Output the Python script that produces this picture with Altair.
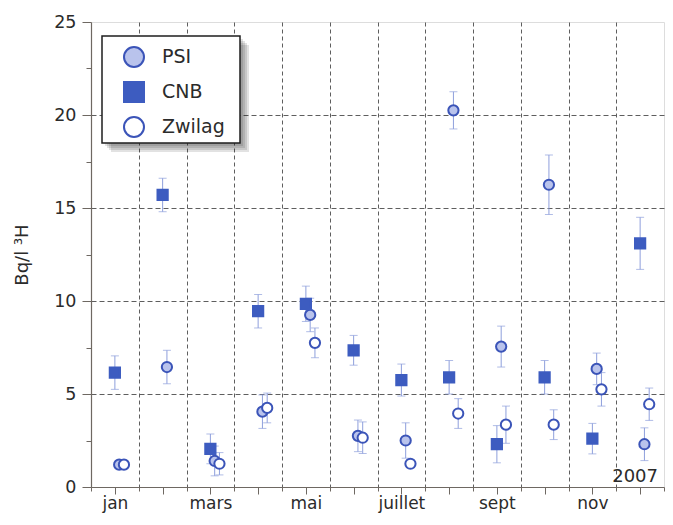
import json
import altair as alt
import pandas as pd

# ---------------- data ----------------
series_order = ["PSI", "CNB", "Zwilag"]
month_labels = ["jan", "", "mars", "", "mai", "", "juillet", "", "sept", "", "nov", ""]

psi_month = [1, 2, 3, 4, 5, 6, 7, 8, 9, 10, 11, 12]
psi_val = [1.2, 6.45, 1.4, 4.05, 9.25, 2.75, 2.5, 20.25, 7.55, 16.25, 6.35, 2.3]
psi_err = [0.2, 0.9, 0.8, 0.9, 0.9, 0.85, 0.95, 1.0, 1.1, 1.6, 0.85, 0.88]

cnb_month = [1, 2, 3, 4, 5, 6, 7, 8, 9, 10, 11, 12]
cnb_val = [6.15, 15.7, 2.05, 9.45, 9.85, 7.35, 5.75, 5.9, 2.3, 5.9, 2.6, 13.1]
cnb_err = [0.9, 0.9, 0.8, 0.9, 0.95, 0.8, 0.86, 0.9, 1.0, 0.9, 0.82, 1.4]

zw_month = [1, 3, 4, 5, 6, 7, 8, 9, 10, 11, 12]
zw_val = [1.2, 1.25, 4.25, 7.75, 2.65, 1.25, 3.95, 3.35, 3.35, 5.25, 4.45]
zw_err = [0.2, 0.6, 0.8, 0.8, 0.85, 0.2, 0.8, 1.0, 0.8, 0.9, 0.87]

year_label = "2007"

rows = []
for name, ms, vs, es in [("PSI", psi_month, psi_val, psi_err),
                         ("CNB", cnb_month, cnb_val, cnb_err),
                         ("Zwilag", zw_month, zw_val, zw_err)]:
    for m, v, e in zip(ms, vs, es):
        rows.append({"series": name, "month": m, "value": v, "err": e})
df = pd.DataFrame(rows)

# ---------------- styling ----------------
FONT = "DejaVu Sans"
TXT = "#2b2b2b"
AX = "#6e6862"
GRID = "#5e5e5e"
W, H = 573, 465

fill_range = ["#b9c3ec", "#3d5cc0", "#ffffff"]
stroke_range = ["#3b54b8", "#3d5cc0", "#3b54b8"]
shape_range = ["circle", "square", "circle"]
ERR = "#8e9fdc"

x_vals = [i / 2 for i in range(1, 26)]
y_vals = [i * 2.5 for i in range(0, 11)]
lab_expr = "datum.value % 1 === 0 ? (" + json.dumps(month_labels) + "[datum.value - 1] || '') : ''"

x_axis = alt.Axis(
    values=x_vals, labelExpr=lab_expr, title=None,
    tickSize={"condition": {"test": "datum.value % 1 === 0", "value": 7}, "value": 4},
    tickColor=AX, domainColor=AX, tickWidth=1, domainWidth=1.2,
    grid=True, gridDash=[4, 3], gridColor=GRID, gridWidth=1,
    gridOpacity={"condition": {"test": "datum.value % 1 !== 0 && datum.value > 1 && datum.value < 12", "value": 1}, "value": 0},
    labelFont=FONT, labelFontSize=17, labelColor=TXT, labelPadding=1,
    labelFlush=False, labelOverlap=False,
)
y_axis = alt.Axis(
    values=y_vals, labelExpr="datum.value % 5 === 0 ? datum.label : ''",
    title="Bq/l ³H", titleFont=FONT, titleFontSize=18, titleFontWeight="normal",
    titleColor=TXT, titlePadding=22,
    tickSize={"condition": {"test": "datum.value % 5 === 0", "value": 9}, "value": 5},
    tickColor=AX, domainColor=AX, tickWidth=1, domainWidth=1.2,
    grid=True, gridDash=[5, 3], gridColor=GRID, gridWidth=1,
    gridOpacity={"condition": {"test": "datum.value % 5 === 0 && datum.value > 0 && datum.value < 25", "value": 1}, "value": 0},
    labelFont=FONT, labelFontSize=17.5, labelColor=TXT, labelPadding=6,
    labelFlush=False, labelOverlap=False,
)

xs = alt.Scale(domain=[0.5, 12.5], nice=False, zero=False)
ys = alt.Scale(domain=[0, 25], nice=False, zero=False)

base = alt.Chart(df).transform_calculate(
    xpos="datum.month + (datum.series === 'PSI' ? 0.09 : (datum.series === 'Zwilag' ? 0.19 : 0))",
    lo="datum.value - datum.err",
    hi="datum.value + datum.err",
)

X = alt.X("xpos:Q", scale=xs, axis=x_axis)

rules = base.mark_rule(color=ERR, strokeWidth=1).encode(
    x=X, y=alt.Y("lo:Q", scale=ys, axis=y_axis), y2="hi:Q")
cap_lo = base.mark_tick(color=ERR, orient="horizontal", size=8, thickness=1).encode(
    x=X, y=alt.Y("lo:Q", scale=ys, axis=y_axis))
cap_hi = base.mark_tick(color=ERR, orient="horizontal", size=8, thickness=1).encode(
    x=X, y=alt.Y("hi:Q", scale=ys, axis=y_axis))

leg = alt.Legend(
    title=None, orient="none", legendX=32, legendY=24, padding=0,
    symbolSize=400, symbolStrokeWidth=2, labelFont=FONT, labelFontSize=19,
    labelColor=TXT, rowPadding=7, labelOffset=17, symbolOpacity=1,
)
points = base.mark_point(size=105, strokeWidth=2, opacity=1).encode(
    x=X, y=alt.Y("value:Q", scale=ys, axis=y_axis),
    shape=alt.Shape("series:N", scale=alt.Scale(domain=series_order, range=shape_range), legend=leg),
    fill=alt.Fill("series:N", scale=alt.Scale(domain=series_order, range=fill_range), legend=leg),
    stroke=alt.Stroke("series:N", scale=alt.Scale(domain=series_order, range=stroke_range), legend=leg),
)

one = pd.DataFrame({"k": [0]})
bx0, by0, bx1, by1 = 11, 14, 149, 121
shadows = [
    alt.Chart(one).mark_rect(color="#222222", opacity=0.13).encode(
        x=alt.value(bx0 + o), x2=alt.value(bx1 + o), y=alt.value(by0 + o), y2=alt.value(by1 + o))
    for o in (3, 5, 7, 9)
]
box = alt.Chart(one).mark_rect(fill="white", stroke="#1e1e1e", strokeWidth=1.5).encode(
    x=alt.value(bx0), x2=alt.value(bx1), y=alt.value(by0), y2=alt.value(by1))

year = alt.Chart(one).mark_text(
    text=year_label, font=FONT, fontSize=18, color=TXT, align="right", baseline="alphabetic"
).encode(x=alt.value(W - 6), y=alt.value(H - 5))

chart = alt.layer(
    *shadows, box, rules, cap_lo, cap_hi, points, year
).properties(
    width=W, height=H,
    autosize=alt.AutoSizeParams(type="none"),
    padding={"left": 83, "top": 14, "right": 1, "bottom": 30},
).configure_view(
    stroke="#8a8480", strokeWidth=1.2
).configure(background="white")

chart.save("out.html", embed_options={"renderer": "svg", "actions": False})
